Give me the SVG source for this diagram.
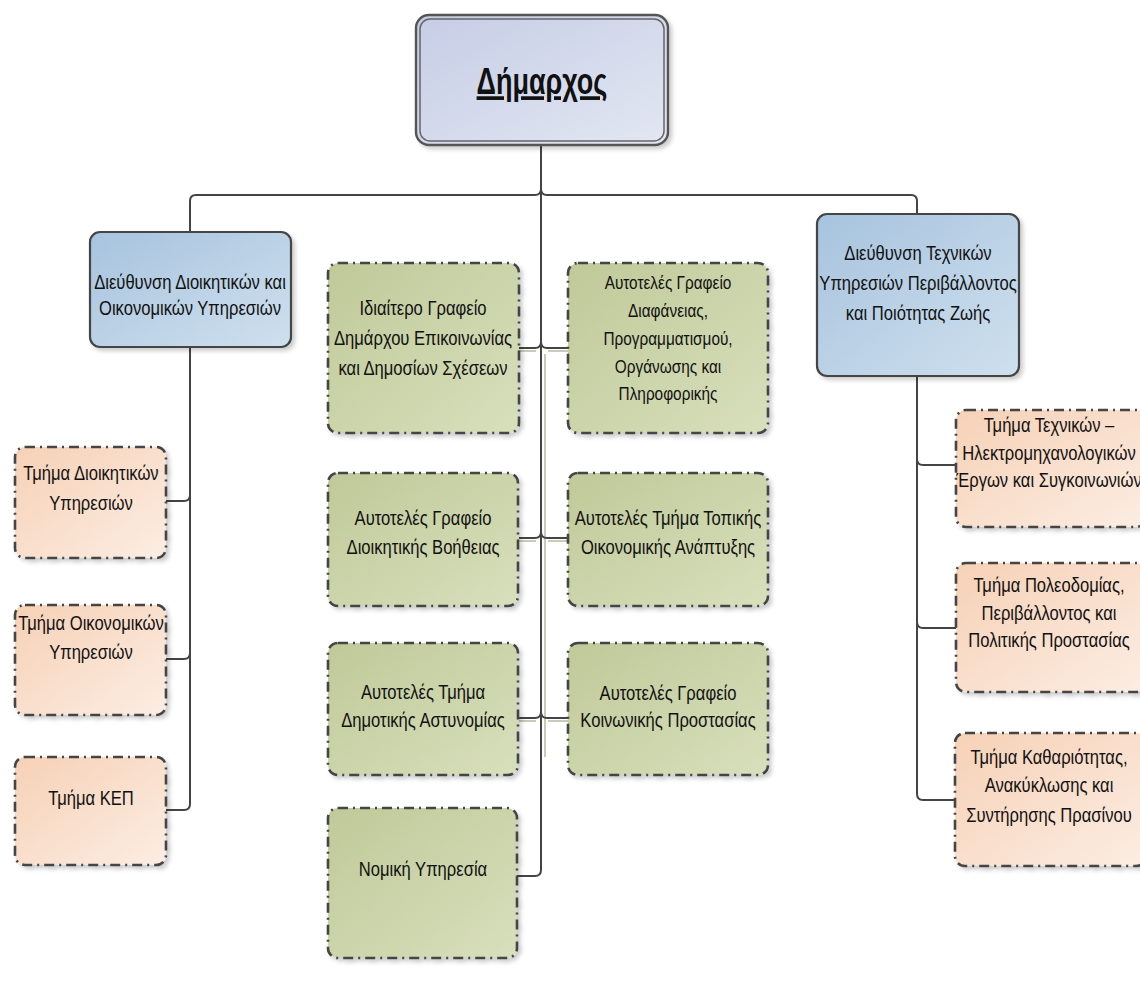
<svg xmlns="http://www.w3.org/2000/svg" width="1140" height="986" viewBox="0 0 1140 986">
<defs>
<linearGradient id="gTop" x1="0" y1="0" x2="1" y2="1"><stop offset="0" stop-color="#c5cde6"/><stop offset="1" stop-color="#e3e7f2"/></linearGradient>
<linearGradient id="gBlue" x1="0" y1="0" x2="1" y2="1"><stop offset="0" stop-color="#a7c3de"/><stop offset="1" stop-color="#cfe0ee"/></linearGradient>
<linearGradient id="gGreen" x1="0" y1="0" x2="1" y2="1"><stop offset="0" stop-color="#c0c999"/><stop offset="1" stop-color="#d8dfbc"/></linearGradient>
<linearGradient id="gPeach" x1="0" y1="0" x2="1" y2="1"><stop offset="0" stop-color="#f6d1b6"/><stop offset="1" stop-color="#fcede3"/></linearGradient>
<filter id="sh" x="-10%" y="-10%" width="130%" height="130%"><feDropShadow dx="3" dy="3" stdDeviation="2" flood-color="#000" flood-opacity="0.2"/></filter>
</defs>
<style>
text{font-family:"Liberation Sans",Arial,sans-serif;font-size:20px;fill:#111;text-anchor:middle}
.sm{font-size:18.5px}
.title{font-size:37px;font-weight:bold;text-decoration:underline}
.blue{fill:url(#gBlue);stroke:#444;stroke-width:2.2}
.green{fill:url(#gGreen);stroke:#444;stroke-width:2.6;stroke-dasharray:10 5 2 5}
.peach{fill:url(#gPeach);stroke:#444;stroke-width:2.6;stroke-dasharray:10 5 2 5}
.con{fill:none;stroke:#444;stroke-width:2}
.conS{fill:none;stroke:#c7ccb6;stroke-width:2}
</style>
<g id="connectors">
<path class="conS" d="M545,354 V757"/>
<path class="conS" d="M519,351 H536 M548,351 H568 M519,541 H536 M548,541 H568 M519,721 H536 M548,721 H568"/>
<path class="con" d="M541,145 V870 Q541,876 535,876 H517"/>
<path class="con" d="M541,189 Q541,195 535,195 H196 Q190,195 190,201 V232"/>
<path class="con" d="M541,189 Q541,195 547,195 H911 Q917,195 917,201 V214"/>
<path class="con" d="M541,342 Q541,348 535,348 H519 M541,342 Q541,348 547,348 H568"/>
<path class="con" d="M541,532 Q541,538 535,538 H519 M541,532 Q541,538 547,538 H568"/>
<path class="con" d="M541,712 Q541,718 535,718 H519 M541,712 Q541,718 547,718 H568"/>
<path class="con" d="M190,347 V804 Q190,810 184,810 H166 M190,495 Q190,501 184,501 H166 M190,653 Q190,659 184,659 H166"/>
<path class="con" d="M917,376 V794 Q917,800 923,800 H955 M917,459 Q917,465 923,465 H956 M917,622 Q917,628 923,628 H956"/>
</g>
<g id="mayor">
<rect x="416" y="15" width="252" height="130" rx="13" fill="url(#gTop)" stroke="#555" stroke-width="2.4" filter="url(#sh)"/>
<rect x="420" y="19" width="244" height="122" rx="10" fill="none" stroke="#666" stroke-width="1.5"/>
<text class="title" transform="translate(542 0) scale(0.73 1)" x="0" y="94">Δήμαρχος</text>
</g>
<g id="dir-admin">
<rect class="blue" x="90" y="232" width="201" height="115" rx="10" filter="url(#sh)"/>
<g transform="translate(190 0) scale(0.83 1)">
<text x="0" y="289">Διεύθυνση Διοικητικών και</text>
<text x="0" y="315">Οικονομικών Υπηρεσιών</text>
</g>
</g>
<g id="dir-tech">
<rect class="blue" x="817" y="214" width="202" height="162" rx="10" filter="url(#sh)"/>
<g transform="translate(918 0) scale(0.83 1)">
<text x="0" y="260">Διεύθυνση Τεχνικών</text>
<text x="0" y="290">Υπηρεσιών Περιβάλλοντος</text>
<text x="0" y="320">και Ποιότητας Ζωής</text>
</g>
</g>
<g id="private-office">
<rect class="green" x="328" y="263" width="191" height="170" rx="10" filter="url(#sh)"/>
<g transform="translate(423 0) scale(0.83 1)">
<text x="0" y="315">Ιδιαίτερο Γραφείο</text>
<text x="0" y="345">Δημάρχου Επικοινωνίας</text>
<text x="0" y="375">και Δημοσίων Σχέσεων</text>
</g>
</g>
<g id="transparency">
<rect class="green" x="568" y="263" width="200" height="170" rx="10" filter="url(#sh)"/>
<g transform="translate(668 0) scale(0.83 1)">
<text class="sm" x="0" y="289">Αυτοτελές Γραφείο</text>
<text class="sm" x="0" y="317">Διαφάνειας,</text>
<text class="sm" x="0" y="345">Προγραμματισμού,</text>
<text class="sm" x="0" y="373">Οργάνωσης και</text>
<text class="sm" x="0" y="400">Πληροφορικής</text>
</g>
</g>
<g id="admin-help">
<rect class="green" x="328" y="473" width="190" height="133" rx="10" filter="url(#sh)"/>
<g transform="translate(423 0) scale(0.83 1)">
<text x="0" y="525">Αυτοτελές Γραφείο</text>
<text x="0" y="554">Διοικητικής Βοήθειας</text>
</g>
</g>
<g id="local-dev">
<rect class="green" x="568" y="473" width="200" height="133" rx="10" filter="url(#sh)"/>
<g transform="translate(668 0) scale(0.83 1)">
<text x="0" y="525">Αυτοτελές Τμήμα Τοπικής</text>
<text x="0" y="554">Οικονομικής Ανάπτυξης</text>
</g>
</g>
<g id="police">
<rect class="green" x="328" y="643" width="190" height="132" rx="10" filter="url(#sh)"/>
<g transform="translate(423 0) scale(0.83 1)">
<text x="0" y="699">Αυτοτελές Τμήμα</text>
<text x="0" y="727">Δημοτικής Αστυνομίας</text>
</g>
</g>
<g id="social">
<rect class="green" x="568" y="643" width="200" height="132" rx="10" filter="url(#sh)"/>
<g transform="translate(668 0) scale(0.83 1)">
<text x="0" y="700">Αυτοτελές Γραφείο</text>
<text x="0" y="727">Κοινωνικής Προστασίας</text>
</g>
</g>
<g id="legal">
<rect class="green" x="328" y="808" width="189" height="150" rx="10" filter="url(#sh)"/>
<text transform="translate(423 0) scale(0.83 1)" x="0" y="876">Νομική Υπηρεσία</text>
</g>
<g id="dept-admin">
<rect class="peach" x="15" y="447" width="151" height="111" rx="10" filter="url(#sh)"/>
<g transform="translate(91 0) scale(0.83 1)">
<text x="0" y="480">Τμήμα Διοικητικών</text>
<text x="0" y="510">Υπηρεσιών</text>
</g>
</g>
<g id="dept-fin">
<rect class="peach" x="15" y="605" width="151" height="110" rx="10" filter="url(#sh)"/>
<g transform="translate(91 0) scale(0.83 1)">
<text x="0" y="630">Τμήμα Οικονομικών</text>
<text x="0" y="659">Υπηρεσιών</text>
</g>
</g>
<g id="dept-kep">
<rect class="peach" x="15" y="757" width="151" height="108" rx="10" filter="url(#sh)"/>
<text transform="translate(91 0) scale(0.83 1)" x="0" y="805">Τμήμα ΚΕΠ</text>
</g>
<g id="dept-tech">
<rect class="peach" x="956" y="410" width="190" height="117" rx="10" filter="url(#sh)"/>
<g transform="translate(1049 0) scale(0.83 1)">
<text x="0" y="432">Τμήμα Τεχνικών –</text>
<text x="0" y="460">Ηλεκτρομηχανολογικών</text>
<text x="0" y="487">Έργων και Συγκοινωνιών</text>
</g>
</g>
<g id="dept-planning">
<rect class="peach" x="956" y="563" width="190" height="129" rx="10" filter="url(#sh)"/>
<g transform="translate(1049 0) scale(0.83 1)">
<text x="0" y="592">Τμήμα Πολεοδομίας,</text>
<text x="0" y="620">Περιβάλλοντος και</text>
<text x="0" y="647">Πολιτικής Προστασίας</text>
</g>
</g>
<g id="dept-clean">
<rect class="peach" x="955" y="733" width="191" height="133" rx="10" filter="url(#sh)"/>
<g transform="translate(1049 0) scale(0.83 1)">
<text x="0" y="764">Τμήμα Καθαριότητας,</text>
<text x="0" y="792">Ανακύκλωσης και</text>
<text x="0" y="822">Συντήρησης Πρασίνου</text>
</g>
</g>
</svg>
